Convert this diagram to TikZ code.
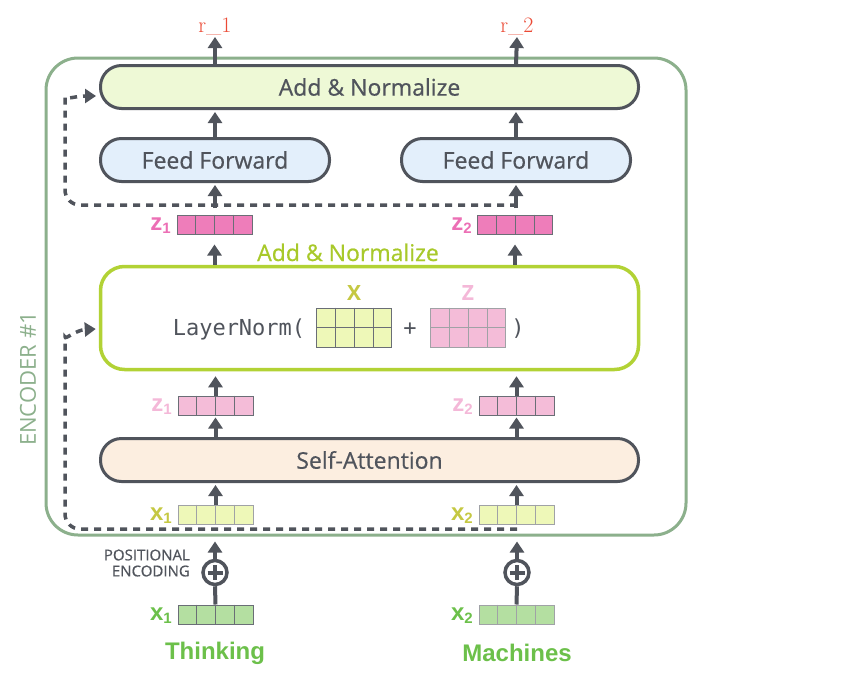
\documentclass[tikz,border=0pt]{standalone}
\usepackage{fontspec}
\newfontfamily\osans{Open Sans}
\newfontfamily\osansm{Open Sans}[FakeBold=0.6]
\newfontfamily\lsans{Liberation Sans}
\newfontfamily\dmono{DejaVu Sans Mono}
\usetikzlibrary{arrows.meta,calc}
\definecolor{dk}{HTML}{50545C}
\definecolor{encg}{HTML}{8CB08C}
\definecolor{anfill}{HTML}{EEF9D6}
\definecolor{fffill}{HTML}{E3EFFB}
\definecolor{safill}{HTML}{FCEEE0}
\definecolor{limeb}{HTML}{B2D235}
\definecolor{anlab}{HTML}{A8C92A}
\definecolor{zdark}{HTML}{EE7DBA}
\definecolor{zdarklab}{HTML}{EC6FB5}
\definecolor{zlight}{HTML}{F4BCD8}
\definecolor{zlightlab}{HTML}{F4B8D8}
\definecolor{xyfill}{HTML}{EEF8B8}
\definecolor{xylab}{HTML}{C5C842}
\definecolor{xgfill}{HTML}{B4DFA1}
\definecolor{xglab}{HTML}{6CC04A}
\definecolor{celld}{HTML}{6A6E76}
\definecolor{celll}{HTML}{A0A2A6}
\definecolor{redlab}{HTML}{EB4A35}
\tikzset{
  pill/.style={draw=dk, line width=3pt, rounded corners=21pt, minimum height=43pt,
    text=dk, font=\osansm\fontsize{23}{27}\selectfont, inner sep=0pt},
  arr/.style={draw=dk, line width=4pt, -{Triangle[width=14pt,length=11pt]}},
  dashlink/.style={draw=dk, line width=3.5pt, dash pattern=on 7pt off 6pt,
    -{Triangle[width=14pt,length=11pt]}},
  plainline/.style={draw=dk, line width=4pt},
  veclab/.style={font=\lsans\bfseries\fontsize{24}{24}\selectfont, anchor=east, inner sep=0pt},
  rlab/.style={font=\fontsize{22}{22}\selectfont, text=redlab, inner sep=1pt, anchor=south},
  matbox/.style={draw=celld, line width=1pt, minimum width=75pt, minimum height=39pt, inner sep=0pt},
  monotext/.style={font=\dmono\fontsize{22}{22}\selectfont, text=dk, inner sep=0pt},
}
\newcommand\cellvec[5]{%
  \node[draw=#5, fill=#4, line width=1pt, minimum width=75pt, minimum height=19pt, inner sep=0pt] (#1) at (#2,#3) {};
  \foreach \i in {1,2,3}
    \draw[#5, line width=1pt] ($(#1.north west)!\i/4!(#1.north east)$) -- ($(#1.south west)!\i/4!(#1.south east)$);
}
\newcommand\subone[1]{{\fontsize{15}{15}\selectfont\raisebox{-3pt}{#1}}}
\begin{document}
\begin{tikzpicture}[x=1pt,y=-1pt]
\useasboundingbox[fill=white] (0,0) rectangle (853,688);

% encoder frame
\node[draw=encg, line width=3pt, rounded corners=32pt, minimum width=640pt, minimum height=477pt, inner sep=0pt] (enc) at (366,296.5) {};
\node[rotate=90, text=encg, font=\osans\fontsize{22}{22}\selectfont, inner sep=0pt] (enclab) at (28,379) {ENCODER \#1};

% main boxes
\node[pill, fill=anfill, minimum width=538pt] (an) at (369.5,87) {Add \& Normalize};
\node[pill, fill=fffill, minimum width=229pt] (ff1) at (215,160) {Feed Forward};
\node[pill, fill=fffill, minimum width=229pt] (ff2) at (516,160) {Feed Forward};
\node[pill, fill=safill, minimum width=538pt] (sa) at (369.5,460) {Self-Attention};
\node[draw=limeb, line width=3.5pt, rounded corners=24pt, minimum width=538pt, minimum height=103pt, inner sep=0pt] (ln) at (369.5,318) {};
\node[font=\osansm\fontsize{23}{23}\selectfont, text=anlab, anchor=base, inner sep=0pt] (anlabel) at (348,261) {Add \& Normalize};

% LayerNorm contents
\node[monotext] (lnt) at (239,329) {LayerNorm(};
\node[matbox, fill=xyfill] (mx) at (354,327.5) {};
\node[matbox, fill=zlight, draw=celll] (mz) at (468,327.5) {};
\foreach \m/\c in {mx/celld, mz/celll}{
  \foreach \i in {1,2,3}
    \draw[\c, line width=1pt] ($(\m.north west)!\i/4!(\m.north east)$) -- ($(\m.south west)!\i/4!(\m.south east)$);
  \draw[\c, line width=1pt] (\m.west) -- (\m.east);
}
\node[monotext] (plussign) at (410,329) {+};
\node[monotext] (rparen) at (518,329) {)};
\node[font=\osans\bfseries\fontsize{21}{21}\selectfont, text=xylab, inner sep=0pt] (lx) at (354,293) {X};
\node[font=\osans\bfseries\fontsize{21}{21}\selectfont, text=zlightlab, inner sep=0pt] (lz) at (468,293) {Z};

% vectors
\cellvec{z1d}{214.5}{224.5}{zdark}{celld}
\cellvec{z2d}{515}{224.5}{zdark}{celld}
\cellvec{z1l}{215.5}{405.5}{zlight}{celld}
\cellvec{z2l}{516.5}{405.5}{zlight}{celld}
\cellvec{x1y}{215.5}{514.5}{xyfill}{celll}
\cellvec{x2y}{516.5}{514.5}{xyfill}{celll}
\cellvec{x1g}{215.5}{614.5}{xgfill}{celld}
\cellvec{x2g}{516.5}{614.5}{xgfill}{celll}

\node[veclab, text=zdarklab] (lz1d) at (171,226) {z\subone{1}};
\node[veclab, text=zdarklab] (lz2d) at (472,226) {z\subone{2}};
\node[veclab, text=zlightlab] (lz1l) at (172,407) {z\subone{1}};
\node[veclab, text=zlightlab] (lz2l) at (473,407) {z\subone{2}};
\node[veclab, text=xylab] (lx1y) at (172,516) {x\subone{1}};
\node[veclab, text=xylab] (lx2y) at (473,516) {x\subone{2}};
\node[veclab, text=xglab] (lx1g) at (172,616) {x\subone{1}};
\node[veclab, text=xglab] (lx2g) at (473,616) {x\subone{2}};

% words
\node[font=\lsans\bfseries\fontsize{24}{24}\selectfont, text=xglab] (w1) at (215,653) {Thinking};
\node[font=\lsans\bfseries\fontsize{24}{24}\selectfont, text=xglab] (w2) at (517,653) {Machines};

% positional encoding
\node[circle, draw=dk, line width=3.5pt, minimum size=24pt, inner sep=0pt] (p1) at (215,572.5) {};
\node[circle, draw=dk, line width=3.5pt, minimum size=24pt, inner sep=0pt] (p2) at (517,572.5) {};
\foreach \p in {p1,p2}{
  \draw[dk, line width=4pt] ($(\p.center)+(-7.5,0)$) -- ($(\p.center)+(7.5,0)$);
  \draw[dk, line width=4pt] ($(\p.center)+(0,-7.5)$) -- ($(\p.center)+(0,7.5)$);
}
\node[font=\osansm\fontsize{15}{16}\selectfont, text=dk, align=right, anchor=east, inner sep=0pt] (pe) at (190,563) {POSITIONAL\\ENCODING};

% outputs
\node[rlab] (r1) at (215,37) {r\_1};
\node[rlab] (r2) at (517,37) {r\_2};

% arrows
\draw[arr] (an.north -| ff1) -- (r1.south);
\draw[arr] (an.north -| ff2) -- (r2.south);
\draw[arr, shorten >=2pt] (ff1.north) -- (an.south -| ff1);
\draw[arr, shorten >=2pt] (ff2.north) -- (an.south -| ff2);
\coordinate (d1) at (215,208);
\coordinate (d2) at (516,208);
\draw[arr, shorten >=2pt] (d1) -- (ff1.south);
\draw[arr, shorten >=2pt] (d2) -- (ff2.south);
\draw[arr, shorten >=10pt] (ln.north -| z1d) -- (z1d.south);
\draw[arr, shorten >=10pt] (ln.north -| z2d) -- (z2d.south);
\draw[arr, shorten >=5pt] (z1l.north) -- (ln.south -| z1l);
\draw[arr, shorten >=5pt] (z2l.north) -- (ln.south -| z2l);
\draw[arr, shorten >=2pt] (sa.north -| z1l) -- (z1l.south);
\draw[arr, shorten >=2pt] (sa.north -| z2l) -- (z2l.south);
\draw[arr, shorten >=2pt] (x1y.north) -- (sa.south -| x1y);
\draw[arr, shorten >=2pt] (x2y.north) -- (sa.south -| x2y);
\draw[arr, shorten >=5pt] (p1.north) -- (enc.south -| p1);
\draw[arr, shorten >=5pt] (p2.north) -- (enc.south -| p2);
\draw[plainline] (x1g.north) -- (p1.south);
\draw[plainline] (x2g.north) -- (p2.south);

% residual dashed connectors
\coordinate (t2) at (517,205);
\coordinate (b2) at (517,529);
\draw[dashlink] [rounded corners=15pt] (t2) -- (65,205) -- (65,112) [sharp corners] .. controls (65,100) and (76,96) .. ($(an.west)+(-3,9)$);
\draw[dashlink] [rounded corners=15pt] (b2) -- (65,529) -- (65,352) [sharp corners] .. controls (65,340) and (76,330) .. ($(ln.west)+(-3,11)$);
\end{tikzpicture}
\end{document}
